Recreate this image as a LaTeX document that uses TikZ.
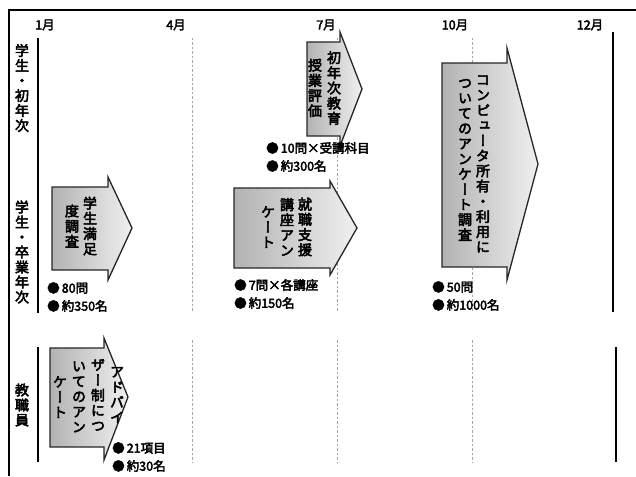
\documentclass[tikz,border=0pt]{standalone}
\usepackage{fontspec}
\setmainfont{Noto Sans CJK JP}[FakeBold=3.2]
\newfontfamily\jpv{Noto Sans CJK JP}[Vertical=Alternates,FakeBold=3.6]
\begin{document}
\begin{tikzpicture}[x=1pt,y=-1pt,
  frame/.style={line width=2.6pt, black},
  axis/.style={line width=1.1pt, black},
  endline/.style={line width=2pt, black},
  guide/.style={gray!70, line width=0.9pt, dash pattern=on 2.5pt off 2pt},
  blockarr/.style={draw=black!85, line width=1.3pt, line join=miter, left color=gray!60, right color=gray!12},
  col/.style={font=\jpv\fontsize{14}{15.2}\selectfont, align=center, inner sep=0pt},
  rowlab/.style={font=\jpv\fontsize{14}{15}\selectfont, align=center, inner sep=0pt},
  bul/.style={font=\fontsize{12.5}{18}\selectfont, align=left, anchor=west, inner sep=0pt},
  month/.style={font=\fontsize{12.5}{14}\selectfont, inner sep=0pt}]
\useasboundingbox (0,0) rectangle (636,476);
\fill[white] (0,0) rectangle (636,476);
% frame
\draw[frame] (9,476) -- (9,10) -- (636,10);
% month labels
\node[month] (m1) at (45,25) {1月};
\node[month] (m4) at (176,25) {4月};
\node[month] (m7) at (326,25) {7月};
\node[month] (m10) at (455,25) {10月};
\node[month] (m12) at (590,25) {12月};
% row labels
\node[rowlab] (r1) at (22,88) {学\\生\\・\\初\\年\\次};
\node[rowlab] (r2) at (22,252) {学\\生\\・\\卒\\業\\年\\次};
\node[rowlab] (r3) at (22,405) {教\\職\\員};
% axis lines
\draw[axis] (38,38) -- (38,313);
\draw[axis] (38,347) -- (38,462);
\draw[endline] (613,32) -- (613,312);
\draw[endline] (616,347) -- (616,462);
% guides
\foreach \x in {192,337,472}{
  \draw[guide] (\x,38) -- (\x,312);
  \draw[guide] (\x,340) -- (\x,462);
}
% arrows
\path[blockarr] (52,187) -- (108,187) -- (108,177) -- (132,228) -- (108,280) -- (108,270) -- (52,270) -- cycle;
\path[blockarr] (307,42) -- (340,42) -- (340,32) -- (362,89) -- (340,146) -- (340,136) -- (307,136) -- cycle;
\path[blockarr] (234,188) -- (330,188) -- (330,181) -- (357,228) -- (330,275) -- (330,268) -- (234,268) -- cycle;
\path[blockarr] (442,63) -- (507,63) -- (507,48) -- (538,164) -- (507,280) -- (507,267) -- (442,267) -- cycle;
\path[blockarr] (50,348) -- (104,348) -- (104,338) -- (128,397) -- (104,460) -- (104,447) -- (50,447) -- cycle;
% arrow texts
\node[col] (a1a) at (90,226) {学\\生\\満\\足};
\node[col] (a1b) at (72,226) {度\\調\\査};
\node[col] (a2a) at (334,88) {初\\年\\次\\教\\育};
\node[col] (a2b) at (315,88) {授\\業\\評\\価};
\node[col] (a3a) at (305,227) {就\\職\\支\\援};
\node[col] (a3b) at (287,227) {講\\座\\ア\\ン};
\node[col] (a3c) at (268,227) {ケ\\ー\\ト};
\node[col] (a4a) at (483,164) {コ\\ン\\ピ\\ュ\\ー\\タ\\所\\有\\・\\利\\用\\に};
\node[col] (a4b) at (465,160) {つ\\い\\て\\の\\ア\\ン\\ケ\\ー\\ト\\調\\査};
\node[col] (a5a) at (117,395) {ア\\ド\\バ\\イ};
\node[col] (a5b) at (98,395) {ザ\\ー\\制\\に\\つ};
\node[col] (a5c) at (79,397) {い\\て\\の\\ア\\ン};
\node[col] (a5d) at (60,397) {ケ\\ー\\ト};
% bullets
\node[bul] (b1) at (47,297) {●\,80問\\●\,約350名};
\node[bul] (b2) at (266,157) {●\,10問×受講科目\\●\,約300名};
\node[bul] (b3) at (234,294) {●\,7問×各講座\\●\,約150名};
\node[bul] (b4) at (432,296) {●\,50問\\●\,約1000名};
\node[bul] (b5) at (112,457) {●\,21項目\\●\,約30名};
\end{tikzpicture}
\end{document}
